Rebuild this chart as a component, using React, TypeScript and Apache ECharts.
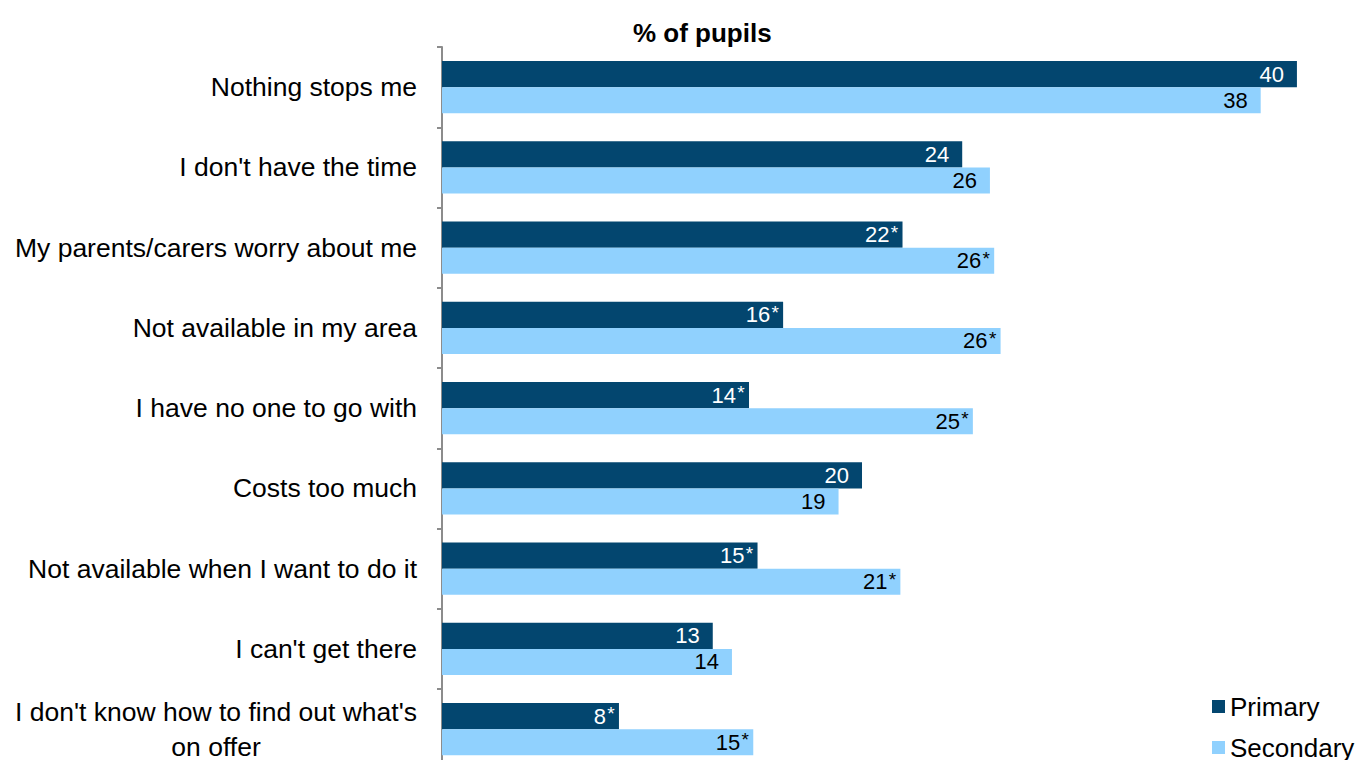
import React, { useEffect, useRef } from "react";
import * as echarts from "echarts";

const categories = [
  "Nothing stops me",
  "I don't have the time",
  "My parents/carers worry about me",
  "Not available in my area",
  "I have no one to go with",
  "Costs too much",
  "Not available when I want to do it",
  "I can't get there",
  "I don't know how to find out what's\non offer",
];

const primaryValues = [40.1, 24.4, 21.6, 16.0, 14.4, 19.7, 14.8, 12.7, 8.3];
const secondaryValues = [38.4, 25.7, 25.9, 26.2, 24.9, 18.6, 21.5, 13.6, 14.6];

const primaryLabels = ["40", "24", "22*", "16*", "14*", "20", "15*", "13", "8*"];
const secondaryLabels = ["38", "26", "26*", "26*", "25*", "19", "21*", "14", "15*"];

const seriesNames = ["Primary", "Secondary"];
const colors = ["#03466f", "#90d1fe"];
const FONT = "'Liberation Sans', Arial, sans-serif";

function labelFmt(labels: string[]) {
  return (p: any) => {
    const s = labels[p.dataIndex];
    const star = s.endsWith("*");
    const num = star ? s.slice(0, -1) : s;
    return `{v|${num}}{s|${star ? "*" : " "}}`;
  };
}

function labelRich(color: string) {
  return {
    v: { fontSize: 22, fontFamily: FONT, color, lineHeight: 24 },
    s: { fontSize: 19, fontFamily: FONT, color, width: 10, align: "left", verticalAlign: "top", lineHeight: 18 },
  };
}

export default function App() {
  const ref = useRef<HTMLDivElement>(null);
  useEffect(() => {
    if (!ref.current) return;
    const chart = echarts.init(ref.current, null, { renderer: "svg" });
    chart.setOption({
      animation: false,
      title: {
        text: "% of pupils",
        left: 628,
        top: 15,
        textStyle: { fontFamily: FONT, fontWeight: "bold", fontSize: 26, color: "#000" },
      },
      legend: {
        data: seriesNames,
        orient: "vertical",
        left: 1207,
        top: 687,
        itemWidth: 13,
        itemHeight: 13,
        itemGap: 12,
        icon: "rect",
        textStyle: { fontFamily: FONT, fontSize: 26, color: "#000", lineHeight: 29 },
      },
      grid: { left: 442, top: 47, right: 0, height: 9 * 80.25 },
      xAxis: {
        type: "value",
        min: 0,
        max: 920 / 21.32,
        show: false,
      },
      yAxis: {
        type: "category",
        data: categories,
        inverse: true,
        axisLine: { show: true, lineStyle: { color: "#8c8c8c", width: 2 } },
        axisTick: { show: true, length: 5, lineStyle: { color: "#8c8c8c", width: 2 } },
        axisLabel: {
          margin: 25,
          fontFamily: FONT,
          fontSize: 26.5,
          color: "#000",
          lineHeight: 35,
          formatter: (v: string) =>
            v
              .split("\n")
              .map((l) => `{c|${l}}`)
              .join("\n"),
          rich: {
            c: { fontFamily: FONT, fontSize: 26.5, color: "#000", lineHeight: 35, align: "center" },
          },
        },
        splitLine: { show: false },
      },
      series: [
        {
          name: seriesNames[0],
          type: "bar",
          data: primaryValues,
          itemStyle: { color: colors[0] },
          barCategoryGap: "35%",
          barGap: "0%",
          label: {
            show: true,
            position: "insideRight",
            distance: 3,
            formatter: labelFmt(primaryLabels),
            rich: labelRich("#fff"),
          },
        },
        {
          name: seriesNames[1],
          type: "bar",
          data: secondaryValues,
          itemStyle: { color: colors[1] },
          barCategoryGap: "35%",
          barGap: "0%",
          label: {
            show: true,
            position: "insideRight",
            distance: 3,
            formatter: labelFmt(secondaryLabels),
            rich: labelRich("#000"),
          },
        },
      ],
    });
    return () => chart.dispose();
  }, []);
  return (
    <div
      ref={ref}
      style={{ position: "absolute", left: 0, top: 0, width: 1362, height: 800, background: "#fff" }}
    />
  );
}
